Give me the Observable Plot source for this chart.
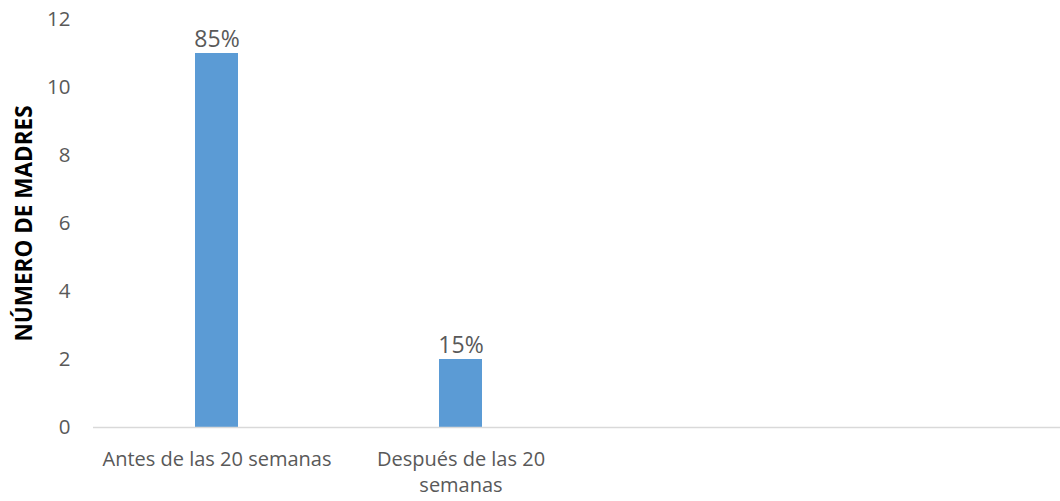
<!DOCTYPE html>
<html>
<head>
<meta charset="utf-8">
<script src="https://cdn.jsdelivr.net/npm/d3@7"></script>
<script src="https://cdn.jsdelivr.net/npm/@observablehq/plot@0.6"></script>
<style>
  html, body { margin: 0; padding: 0; background: #ffffff; }
  #chart svg { display: block; }
</style>
</head>
<body>
<div id="chart"></div>
<script>
// Category slots (the last two slots are empty in the original chart)
const categories = ["Antes de las 20 semanas", "Después de las 20 semanas", "slot3", "slot4"];
const xTickLabels = ["Antes de las 20 semanas", "Después de las 20\nsemanas", "", ""];
const barCategories = ["Antes de las 20 semanas", "Después de las 20 semanas"];
const counts = [11, 2];
const percentLabels = ["85%", "15%"];
const yTicks = [0, 2, 4, 6, 8, 10, 12];
const yTitle = "NÚMERO DE MADRES";

const data = barCategories.map((c, i) => ({category: c, count: counts[i], label: percentLabels[i]}));

const font = "'Open Sans', 'Noto Sans', sans-serif";
const textColor = "#595959";

const chart = Plot.plot({
  width: 1060,
  height: 501,
  marginTop: 19,
  marginBottom: 74,
  marginLeft: 93,
  marginRight: 0,
  style: {fontFamily: font, color: textColor, background: "#ffffff", overflow: "hidden"},
  x: {domain: categories, range: [93, 1071], paddingInner: 0.824, paddingOuter: 0.412},
  y: {domain: [0, 12], ticks: yTicks},
  marks: [
    Plot.axisY({ticks: yTicks, tickSize: 0, tickPadding: 23, fontSize: 20.5, fill: textColor, label: null}),
    Plot.axisX({tickSize: 0, tickPadding: 21, fontSize: 20, fill: textColor, lineHeight: 1.26,
      tickFormat: (d) => xTickLabels[categories.indexOf(d)], label: null}),
    Plot.barY(data, {x: "category", y: "count", fill: "#5b9bd5"}),
    Plot.ruleY([0], {stroke: "#d9d9d9", strokeWidth: 1.5}),
    Plot.text(data, {x: "category", y: "count", text: "label", lineAnchor: "bottom", dy: -7, fontSize: 23, fill: textColor}),
    Plot.text([yTitle], {frameAnchor: "left", dx: -69, rotate: -90, textAnchor: "middle", fontSize: 22.5, fontWeight: "bold", fill: "#000000"})
  ]
});
document.getElementById("chart").appendChild(chart);
</script>
</body>
</html>
